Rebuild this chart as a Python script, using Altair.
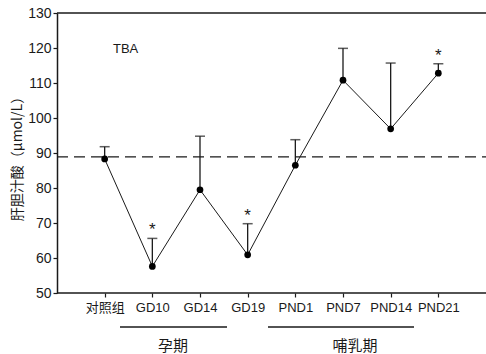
import altair as alt
import pandas as pd

categories = ["对照组", "GD10", "GD14", "GD19", "PND1", "PND7", "PND14", "PND21"]
means = [88.3, 57.6, 79.5, 60.9, 86.5, 110.8, 96.9, 112.8]
uppers = [91.8, 65.6, 94.8, 69.8, 93.8, 119.9, 115.7, 115.5]
marks = ["", "*", "", "*", "", "", "", "*"]
control_level = 88.9
y_ticks = [50, 60, 70, 80, 90, 100, 110, 120, 130]

groups = ["孕期", "哺乳期"]

W, H = 429, 280
INK = "#1a1a1a"
FONT = "Liberation Sans Narrow, Liberation Sans, Noto Sans CJK SC"
NUMFONT = "Liberation Sans, Noto Sans CJK SC"

df = pd.DataFrame({"cat": categories, "mean": means, "upper": uppers, "sig": marks})
sig_df = df[df["sig"] != ""]
one = pd.DataFrame({"k": [0]})

xs = alt.Scale(type="point", domain=categories, padding=1)
ys = alt.Scale(domain=[50, 130], nice=False, zero=False)

x_axis = alt.Axis(title=None, labelAngle=0, domain=False, ticks=True,
                  tickSize=4, tickColor=INK, tickWidth=1.2,
                  labelFont=FONT, labelFontSize=13, labelColor=INK,
                  labelFontWeight="normal", labelPadding=4)
y_axis = alt.Axis(values=y_ticks, title="肝胆汁酸（μmol/L）", grid=False,
                  labelOverlap=False,
                  domainColor=INK, domainWidth=1.5, tickColor=INK, tickSize=4,
                  tickWidth=1.2, labelFont=NUMFONT, labelFontSize=14,
                  labelColor=INK, labelPadding=2,
                  titleFont="Noto Sans CJK SC", titleFontSize=14,
                  titleFontWeight="normal", titleColor=INK, titleAngle=270,
                  titleX=-40, titleY=142, titleAlign="center",
                  titleBaseline="middle")


def X(field="cat"):
    return alt.X(f"{field}:N", scale=xs, sort=categories, axis=x_axis)


def Y(field):
    return alt.Y(f"{field}:Q", scale=ys, axis=y_axis)


base = alt.Chart(df)
single = alt.Chart(one)

xaxis_line = single.mark_rule(color=INK, strokeWidth=1.5).encode(
    x=alt.value(0), x2=alt.value(W), y=alt.value(H))
top_line = single.mark_rule(color=INK, strokeWidth=1.5).encode(
    x=alt.value(0), x2=alt.value(W), y=alt.value(0))

ref = alt.Chart(pd.DataFrame({"v": [control_level]})).mark_rule(
    color=INK, strokeWidth=1.3, strokeDash=[11, 6]).encode(
    y=Y("v"), x=alt.value(0), x2=alt.value(W))

line = base.mark_line(color=INK, strokeWidth=1).encode(x=X(), y=Y("mean"))

err = base.mark_rule(color=INK, strokeWidth=1.3).encode(
    x=X(), y=Y("mean"), y2="upper:Q")
cap = base.mark_tick(color=INK, size=10, thickness=1.5, orient="horizontal").encode(
    x=X(), y=Y("upper"))

pts = base.mark_point(filled=True, color="#000", size=45, opacity=1,
                      shape="circle").encode(x=X(), y=Y("mean"))

stars = alt.Chart(sig_df).mark_text(font=NUMFONT, fontSize=17, color=INK,
                                    fontWeight="normal",
                                    baseline="alphabetic", dy=-3).encode(
    x=X(), y=Y("upper"), text="sig:N")

tba = single.mark_text(text="TBA", font=FONT, fontSize=13, color=INK,
                       fontWeight="normal", align="left", baseline="middle").encode(
    x=alt.value(56), y=alt.value(36))

# group brackets below the axis (pixel offsets within plot area)
g_x1 = [63, 211]
g_x2 = [170, 357]
g_xc = [116, 298]
group_layers = []
for g, a, b, c in zip(groups, g_x1, g_x2, g_xc):
    group_layers.append(single.mark_rule(color=INK, strokeWidth=1.3).encode(
        x=alt.value(a), x2=alt.value(b), y=alt.value(H + 34)))
    group_layers.append(single.mark_text(text=g, font="Noto Sans CJK SC", fontSize=15,
                                         color=INK, fontWeight="normal",
                                         baseline="middle").encode(
        x=alt.value(c), y=alt.value(H + 53)))

chart = alt.layer(ref, line, err, cap, pts, stars, tba, xaxis_line, top_line,
                  *group_layers).properties(
    width=W, height=H,
    autosize=alt.AutoSizeParams(type="none"),
    padding={"left": 57, "top": 13, "right": 0, "bottom": 61},
    background="white",
).configure_view(stroke=None)

chart.save("out.html", embed_options={"renderer": "svg", "actions": False})
